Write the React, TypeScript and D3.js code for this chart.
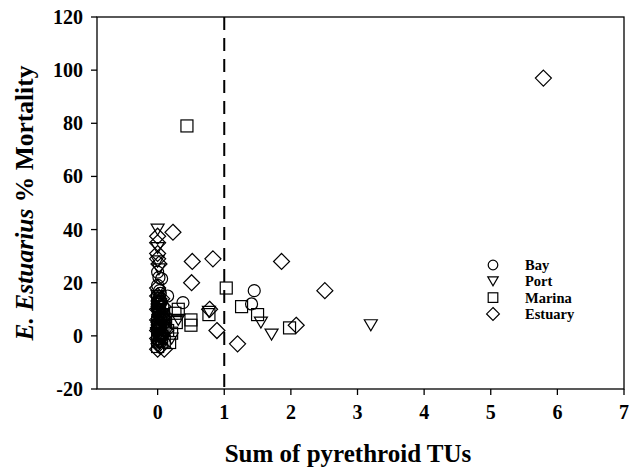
import React from "react";
import * as d3 from "d3";

const xTicks = [0, 1, 2, 3, 4, 5, 6, 7];
const yTicks = [-20, 0, 20, 40, 60, 80, 100, 120];
const seriesNames = ["Bay", "Port", "Marina", "Estuary"];

const bayX = [0.0, 0.02, 0.06, 0.0, 0.03, 0.0, 0.15, 0.05, 0.0, 0.08, 0.02, 0.0, 0.06, 0.03, 0.0, 0.05, 0.02, 0.38, 1.41, 1.45, 0.1, 0.12, 0.0, 0.01, 0.04, 0.0, 0.07, 0.02, 0.04, 0.0, 0.09];
const bayY = [24, 22, 21.5, 19, 17, 15, 15, 13, 12, 11, 9, 7, 6, 4, 2, 0, -2, 12.5, 12, 17, 8, 3, 10, 5, 3, -1, 1, 14, 16, 13, 6];

const portX = [0.0, 0.0, 0.0, 0.02, 0.0, 0.04, 0.0, 0.06, 0.02, 0.0, 0.08, 0.03, 0.21, 0.31, 0.77, 1.55, 1.71, 3.2, 0.1, 0.0, 0.02, 0.05, 0.0, 0.03, 0.07, 0.0, 0.09, 0.01, 0.04];
const portY = [40, 33, 28, 25, 15, 12, 9, 7, 4, 1, -1, -3, -1, 6, 9, 5, 0.5, 4, 3, 11, 8, 5, 2, 0, -2, -4, 4, 6, 10];

const marinaX = [0.44, 1.03, 1.26, 1.5, 1.98, 0.77, 0.5, 0.5, 0.31, 0.26, 0.28, 0.21, 0.18, 0.0, 0.02, 0.05, 0.0, 0.08, 0.03, 0.1, 0.0, 0.12, 0.15, 0.0, 0.02, 0.04, 0.0, 0.06, 0.01, 0.09, 0.0, 0.03];
const marinaY = [79, 18, 11, 8, 3, 8, 6, 4, 10, 8.5, 5, 1, -2.5, 14, 10, 7, 5, 3, 0, -2, -4, 6, 2, 12, 9, 4, 1, -1, 3, 8, -2, 11];

const estuaryX = [0.0, 0.0, 0.0, 0.0, 0.02, 0.23, 0.52, 0.83, 0.51, 0.78, 0.89, 1.2, 1.86, 2.51, 2.08, 5.79, 0.0, 0.03, 0.0, 0.05, 0.02, 0.0, 0.06, 0.03, 0.0, 0.1, 0.12, 0.08, 0.0, 0.02, 0.04, 0.0, 0.01, 0.05, 0.0, 0.02, 0.07, 0.04, 0.06];
const estuaryY = [37.5, 35, 31, 29, 27, 39, 28, 29, 20, 10, 2, -3, 28, 17, 4, 97, 18, 13, 10, 8, 5, 2, 0, -2, -5, -5, 2, 11, 15, 12, 9, 6, 3, 1, -1, -3, 7, -4, 14];

const cutoff = 1;

const W = 632;
const H = 474;
const left = 97;
const right = 624;
const top = 17;
const bottom = 389;

const FONT = "'Liberation Serif', 'Times New Roman', serif";

function marker(kind: string, x: number, y: number, s: number, key: string) {
  const common = { fill: "none", stroke: "#000", strokeWidth: 1.2 };
  if (kind === "Bay") return <circle key={key} cx={x} cy={y} r={6 * s} {...common} />;
  if (kind === "Marina")
    return <rect key={key} x={x - 6 * s} y={y - 6 * s} width={12 * s} height={12 * s} {...common} />;
  if (kind === "Port") {
    const w = 6.5 * s, h = 5.5 * s;
    return <path key={key} d={`M${x - w},${y - h}L${x + w},${y - h}L${x},${y + h}Z`} {...common} />;
  }
  const d = 8 * s;
  return <path key={key} d={`M${x},${y - d}L${x + d},${y}L${x},${y + d}L${x - d},${y}Z`} {...common} />;
}

export default function App() {
  const x = d3.scaleLinear().domain([-0.91, 7]).range([left, right]);
  const y = d3.scaleLinear().domain([-20, 120]).range([bottom, top]);

  const series = [
    { name: "Bay", xs: bayX, ys: bayY },
    { name: "Port", xs: portX, ys: portY },
    { name: "Marina", xs: marinaX, ys: marinaY },
    { name: "Estuary", xs: estuaryX, ys: estuaryY },
  ];

  const legendTop = 265;
  const legendStep = 16.3;

  return (
    <svg width={W} height={H} style={{ position: "absolute", left: 0, top: 0, background: "#fff" }} fontFamily={FONT}>
      <rect x={0} y={0} width={W} height={H} fill="#fff" />
      <rect x={left} y={top} width={right - left} height={bottom - top} fill="none" stroke="#000" strokeWidth={1.3} />
      {xTicks.map((t) => (
        <g key={"xt" + t}>
          <line x1={x(t)} x2={x(t)} y1={bottom} y2={bottom + 6} stroke="#000" strokeWidth={1.3} />
          <text x={x(t)} y={419} textAnchor="middle" fontSize={20} fontWeight="bold">{t}</text>
        </g>
      ))}
      {yTicks.map((t) => (
        <g key={"yt" + t}>
          <line x1={left - 6} x2={left} y1={y(t)} y2={y(t)} stroke="#000" strokeWidth={1.3} />
          <text x={83} y={y(t) + 7} textAnchor="end" fontSize={20} fontWeight="bold">{t}</text>
        </g>
      ))}
      <line x1={x(cutoff)} x2={x(cutoff)} y1={top} y2={bottom} stroke="#000" strokeWidth={2} strokeDasharray="13,8" />
      {series.map((s) => s.xs.map((xv, i) => marker(s.name, x(xv), y(s.ys[i]), 1, s.name + i)))}
      {seriesNames.map((n, i) => (
        <g key={"lg" + n}>
          {marker(n, 493, legendTop + i * legendStep, 0.8, "lgm" + n)}
          <text x={525} y={legendTop + i * legendStep + 5} fontSize={14.5} fontWeight="bold">{n}</text>
        </g>
      ))}
      <text x={348} y={462} textAnchor="middle" fontSize={25} fontWeight="bold">Sum of pyrethroid TUs</text>
      <text transform={`translate(33, ${(top + bottom) / 2}) rotate(-90)`} textAnchor="middle" fontSize={25.5} fontWeight="bold">
        <tspan fontStyle="italic">E. Estuarius</tspan>
        <tspan> % Mortality</tspan>
      </text>
    </svg>
  );
}
